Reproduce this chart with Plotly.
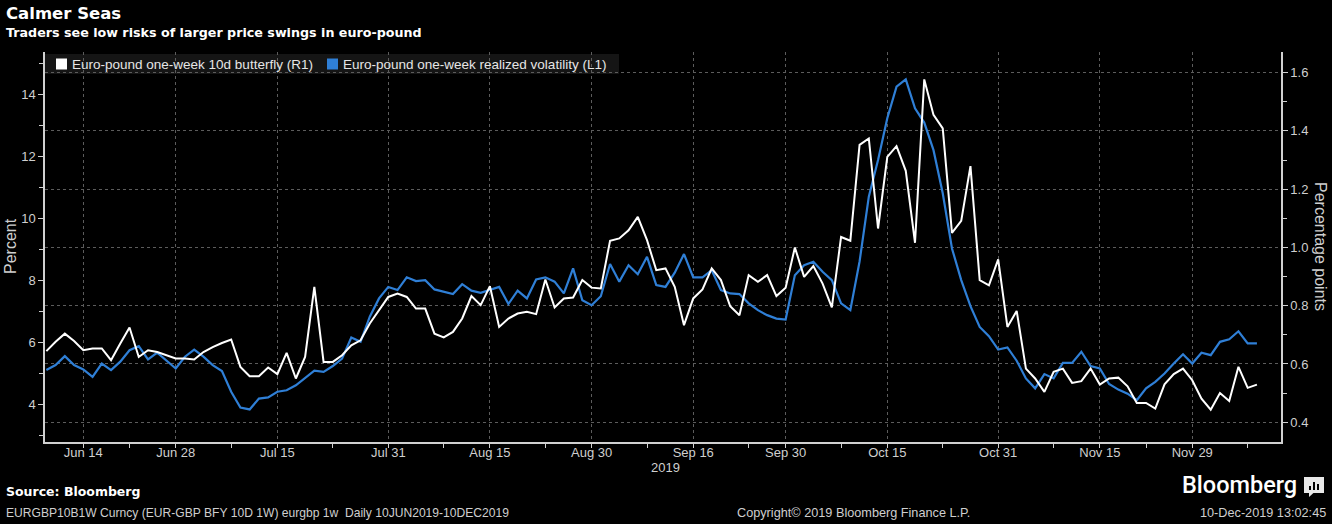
import pandas as pd
import plotly.graph_objects as go

# business days 10 Jun 2019 .. 10 Dec 2019 (Bloomberg daily, weekends skipped)
dates = pd.bdate_range("2019-06-10", "2019-12-10")

# Euro-pound one-week realized volatility, percent (left axis)
realized_vol = [
    5.10, 5.26, 5.55, 5.26, 5.12, 4.88, 5.31, 5.10, 5.37, 5.74,
    5.87, 5.44, 5.66, 5.42, 5.15, 5.53, 5.76, 5.53, 5.26, 5.07,
    4.40, 3.89, 3.83, 4.18, 4.22, 4.40, 4.45, 4.61, 4.83,
    5.08, 5.04, 5.23, 5.47, 6.15, 6.01, 6.82, 7.41, 7.78, 7.68,
    8.09, 7.97, 8.00, 7.70, 7.62, 7.55, 7.87, 7.66, 7.59, 7.68,
    7.78, 7.23, 7.66, 7.41, 8.02, 8.09, 7.95,
    7.57, 8.38, 7.35, 7.19, 7.48, 8.52, 7.95, 8.48, 8.19, 8.75,
    7.84, 7.78, 8.24, 8.84, 8.09, 8.09, 8.32, 7.68, 7.57, 7.55,
    7.25, 7.03, 6.87, 6.76, 6.73,
    8.16, 8.48, 8.59, 8.27, 8.00, 7.25, 7.03, 8.60, 10.69, 11.87,
    13.22, 14.24, 14.47, 13.54, 13.08, 12.19, 10.80, 9.02, 8.00, 7.16,
    6.49, 6.19, 5.76, 5.83, 5.40, 4.83, 4.51, 4.97, 4.83,
    5.33, 5.33, 5.69, 5.23, 5.15, 4.65, 4.47, 4.34, 4.13, 4.51,
    4.72, 4.99, 5.31, 5.61, 5.31, 5.66, 5.58, 6.01, 6.09, 6.35,
    5.96, 5.96,
]

# Euro-pound one-week 10d butterfly, percentage points (right axis)
butterfly = [
    0.644, 0.676, 0.704, 0.679, 0.647, 0.653, 0.653, 0.613, 0.670, 0.725,
    0.624, 0.647, 0.641, 0.630, 0.619, 0.619, 0.615, 0.641, 0.658, 0.672,
    0.684, 0.590, 0.558, 0.558, 0.588, 0.565, 0.638, 0.550, 0.624,
    0.865, 0.607, 0.607, 0.630, 0.664, 0.681, 0.739, 0.785, 0.830, 0.842,
    0.830, 0.790, 0.790, 0.704, 0.691, 0.710, 0.756, 0.833, 0.802, 0.867,
    0.727, 0.756, 0.773, 0.779, 0.771, 0.890, 0.794,
    0.825, 0.828, 0.888, 0.862, 0.859, 1.023, 1.031, 1.059, 1.105, 1.025,
    0.922, 0.928, 0.865, 0.733, 0.825, 0.856, 0.928, 0.888, 0.798, 0.767,
    0.905, 0.882, 0.905, 0.833, 0.862,
    1.000, 0.899, 0.936, 0.876, 0.794, 1.036, 1.023, 1.352, 1.374, 1.065,
    1.311, 1.348, 1.263, 1.016, 1.577, 1.455, 1.409, 1.050, 1.091, 1.279,
    0.888, 0.870, 0.959, 0.727, 0.782, 0.584, 0.550, 0.504, 0.573,
    0.584, 0.535, 0.541, 0.584, 0.529, 0.550, 0.553, 0.523, 0.466, 0.466,
    0.447, 0.530, 0.565, 0.584, 0.544, 0.481, 0.443, 0.500, 0.473, 0.590,
    0.518, 0.529,
]

series_names = ["Euro-pound one-week 10d butterfly (R1)", "Euro-pound one-week realized volatility (L1)"]

tick_dates = ["2019-06-14", "2019-06-28", "2019-07-15", "2019-07-31", "2019-08-15", "2019-08-30",
              "2019-09-16", "2019-09-30", "2019-10-15", "2019-10-31", "2019-11-15", "2019-11-29"]
tick_labels = ["Jun 14", "Jun 28", "Jul 15", "Jul 31", "Aug 15", "Aug 30",
               "Sep 16", "Sep 30", "Oct 15", "Oct 31", "Nov 15", "Nov 29"]
minor_dates = ["2019-06-21", "2019-07-08", "2019-07-23", "2019-08-08", "2019-08-23", "2019-09-09",
               "2019-09-24", "2019-10-08", "2019-10-23", "2019-11-08", "2019-11-22", "2019-12-09"]

WIDTH, HEIGHT = 1332, 524
ML, MR, MT, MB = 45, 51, 52, 82
BLUE = "#2f7fd6"
WHITE = "#ffffff"
GRID = "#5c5c5c"
AXIS = "#d0d0d0"
TXT = "#cfcfcf"


def px_x(px):
    return (px - ML) / (WIDTH - ML - MR)


def px_y(py):
    return (HEIGHT - MB - py) / (HEIGHT - MT - MB)


fig = go.Figure()

fig.add_trace(go.Scatter(x=dates, y=butterfly, yaxis="y2", mode="lines", name=series_names[0],
                         line=dict(color=WHITE, width=2)))
fig.add_trace(go.Scatter(x=dates, y=realized_vol, yaxis="y", mode="lines", name=series_names[1],
                         line=dict(color=BLUE, width=2.2)))

annotations = [
    dict(text="<b>Calmer Seas</b>", x=px_x(4), y=px_y(14), xanchor="left", yanchor="middle",
         font=dict(family="DejaVu Sans", size=16.5, color=WHITE)),
    dict(text="<b>Traders see low risks of larger price swings in euro-pound</b>", x=px_x(4), y=px_y(33),
         xanchor="left", yanchor="middle", font=dict(family="DejaVu Sans", size=12.7, color=WHITE)),
    dict(text="Percent", x=px_x(10), y=px_y(246), textangle=-90, xanchor="center", yanchor="middle",
         font=dict(family="Liberation Sans", size=16, color=TXT)),
    dict(text="Percentage points", x=px_x(1321), y=px_y(246), textangle=90, xanchor="center", yanchor="middle",
         font=dict(family="Liberation Sans", size=16, color=TXT)),
    dict(text="2019", x=px_x(665), y=px_y(467), xanchor="center", yanchor="middle",
         font=dict(family="Liberation Sans", size=13, color=TXT)),
    dict(text="<b>Source: Bloomberg</b>", x=px_x(4), y=px_y(491), xanchor="left", yanchor="middle",
         font=dict(family="DejaVu Sans", size=12.5, color=WHITE)),
    dict(text="EURGBP10B1W Curncy (EUR-GBP BFY 10D 1W) eurgbp 1w  Daily 10JUN2019-10DEC2019",
         x=px_x(4), y=px_y(513), xanchor="left", yanchor="middle",
         font=dict(family="Liberation Sans", size=12.1, color=TXT)),
    dict(text="Copyright\u00a9 2019 Bloomberg Finance L.P.", x=px_x(735), y=px_y(513), xanchor="left",
         yanchor="middle", font=dict(family="Liberation Sans", size=12.7, color=TXT)),
    dict(text="10-Dec-2019 13:02:45", x=px_x(1328), y=px_y(513), xanchor="right", yanchor="middle",
         font=dict(family="Liberation Sans", size=12.7, color=TXT)),
    dict(text="Bloomberg", x=px_x(1299), y=px_y(485), xanchor="right", yanchor="middle",
         font=dict(family="Roboto", size=23.5, color=WHITE, weight=500)),
]

# legend key: square swatches and labels, as in the Bloomberg panel
shapes = [
    dict(type="rect", x0=px_x(45), x1=px_x(619), y0=px_y(74), y1=px_y(54),
         fillcolor="rgba(38,38,38,0.55)", line=dict(width=0), layer="below"),
]
for left, name, color in [(56, series_names[0], WHITE), (327, series_names[1], BLUE)]:
    shapes.append(dict(type="rect", x0=px_x(left), x1=px_x(left + 11), y0=px_y(69.5), y1=px_y(58.5),
                       fillcolor=color, line=dict(width=0)))
    annotations.append(dict(text=name, x=px_x(left + 14), y=px_y(64), xanchor="left", yanchor="middle",
                            font=dict(family="Liberation Sans", size=13.5, color="#e6e6e6")))

for a in annotations:
    a.update(xref="paper", yref="paper", showarrow=False)

# small Bloomberg chart icon
shapes += [
    dict(type="rect", x0=px_x(1304), x1=px_x(1324), y0=px_y(493), y1=px_y(477),
         fillcolor="#e8e8e8", line=dict(width=0)),
    dict(type="path", path="M {} {} L {} {} L {} {} Z".format(px_x(1309), px_y(492.5), px_x(1314), px_y(492.5),
                                                              px_x(1309), px_y(497)),
         fillcolor="#e8e8e8", line=dict(width=0)),
]
for x0, top in [(1309, 486), (1313, 482), (1317, 484)]:
    shapes.append(dict(type="rect", x0=px_x(x0), x1=px_x(x0 + 2), y0=px_y(490), y1=px_y(top),
                       fillcolor="#000000", line=dict(width=0)))
for s in shapes:
    s.update(xref="paper", yref="paper")

fig.update_layout(
    width=WIDTH, height=HEIGHT,
    margin=dict(l=ML, r=MR, t=MT, b=MB),
    paper_bgcolor="#000000", plot_bgcolor="#000000",
    font=dict(family="Liberation Sans", color=TXT),
    showlegend=False,
    annotations=annotations,
    shapes=shapes,
    xaxis=dict(
        type="date",
        range=["2019-06-07 20:30", "2019-12-12 14:30"],
        rangebreaks=[dict(bounds=["sat", "mon"])],
        tickmode="array", tickvals=tick_dates, ticktext=tick_labels,
        tickfont=dict(size=13, color=TXT),
        ticks="outside", ticklen=4, tickcolor=AXIS, ticklabelstandoff=-6,
        minor=dict(tickvals=minor_dates, ticks="outside", ticklen=4, tickcolor=AXIS, showgrid=False),
        showgrid=True, gridcolor=GRID, griddash="dot", gridwidth=1,
        showline=True, linecolor=AXIS, linewidth=1.5,
        zeroline=False,
    ),
    yaxis=dict(
        range=[2.78, 15.355],
        tick0=0, dtick=2,
        tickfont=dict(size=13, color=TXT),
        ticks="outside", ticklen=5, tickcolor=AXIS,
        minor=dict(dtick=1, ticks="outside", ticklen=4, tickcolor=AXIS),
        showgrid=False, zeroline=False,
        showline=True, linecolor=AXIS, linewidth=1.5,
    ),
    yaxis2=dict(
        overlaying="y", side="right",
        range=[0.332, 1.671],
        tick0=0.4, dtick=0.2, tickformat=".1f",
        tickfont=dict(size=13, color=TXT),
        ticks="outside", ticklen=5, tickcolor=AXIS,
        minor=dict(dtick=0.1, ticks="outside", ticklen=4, tickcolor=AXIS),
        showgrid=True, gridcolor=GRID, griddash="dot", gridwidth=1,
        zeroline=False,
        showline=True, linecolor=AXIS, linewidth=1.5,
    ),
)

# the page's default body margin would push the chart 8px off the window corner
fig.write_html("out.html", config={"displayModeBar": False},
               post_script="document.body.style.margin='0';")
